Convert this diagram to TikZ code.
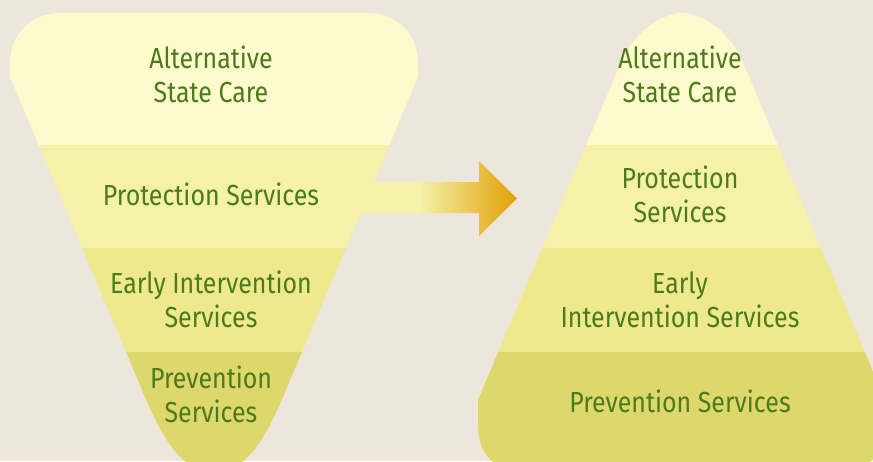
\documentclass[tikz,border=0pt]{standalone}
\usepackage{fontspec}
\setmainfont{Fira Sans}[FakeStretch=0.86]
\definecolor{bgbeige}{HTML}{ECE6DB}
\definecolor{careband}{HTML}{FDFACD}
\definecolor{protband}{HTML}{F5F1A8}
\definecolor{earlyband}{HTML}{EEE98C}
\definecolor{prevband}{HTML}{DED76C}
\definecolor{labelgreen}{HTML}{4C7B1C}
\definecolor{arrowtip}{HTML}{E2A106}
\pgfdeclarehorizontalshading{shiftshade}{100bp}{color(0bp)=(protband); color(25bp)=(protband); color(44bp)=(protband); color(75bp)=(arrowtip); color(100bp)=(arrowtip)}
\begin{document}
\begin{tikzpicture}[x=1pt, y=-1pt,
    lbl/.style={font=\fontsize{29}{34}\selectfont, text=labelgreen, align=center, anchor=base, inner sep=0pt}]
        \useasboundingbox (0,0) rectangle (873,461);
        \clip (0,0) rectangle (873,461);
        \fill[bgbeige] (0,0) rectangle (873,461);
        \shade[shading=shiftshade] (360,182) -- (479,182) -- (479,161) -- (517,198.5) -- (479,236) -- (479,213) -- (360,213) -- cycle;
        \begin{scope}
            \clip (10,77) -- (10,63) .. controls (10,35) and (30,13) .. (60,13) -- (368,13) .. controls (398,13) and (418,35) .. (418,63) -- (418,77) -- (288,385) .. controls (265,442) and (245,472) .. (214,472) .. controls (183,472) and (163,442) .. (140,385) -- cycle;
            \fill[careband] (0,0) rectangle (440,145);
            \fill[protband] (0,145) rectangle (440,248);
            \fill[earlyband] (0,248) rectangle (440,352);
            \fill[prevband] (0,352) rectangle (440,480);
        \end{scope}
        \begin{scope}
            \clip (622,60) .. controls (632.5,35) and (660,13) .. (682,13) .. controls (704,13) and (731.5,35) .. (742,60) -- (885,400) -- (885,425) .. controls (885,450) and (873,468) .. (848,470) -- (515,470) .. controls (490,468) and (478,450) .. (478,425) -- (478,400) -- cycle;
            \fill[careband] (460,0) rectangle (900,145);
            \fill[protband] (460,145) rectangle (900,248);
            \fill[earlyband] (460,248) rectangle (900,352);
            \fill[prevband] (460,352) rectangle (900,470);
        \end{scope}
        \node[lbl] (careL) at (211,102) {Alternative\\State Care};
        \node[lbl] (protL) at (211,205) {Protection Services};
        \node[lbl] (earlyL) at (211,327) {Early Intervention\\Services};
        \node[lbl] (prevL) at (211,422) {Prevention\\Services};
        \node[lbl] (careR) at (680,102) {Alternative\\State Care};
        \node[lbl] (protR) at (680,222) {Protection\\Services};
        \node[lbl] (earlyR) at (680,327) {Early\\Intervention Services};
        \node[lbl] (prevR) at (680,412) {Prevention Services};
    \end{tikzpicture}
\end{document}
